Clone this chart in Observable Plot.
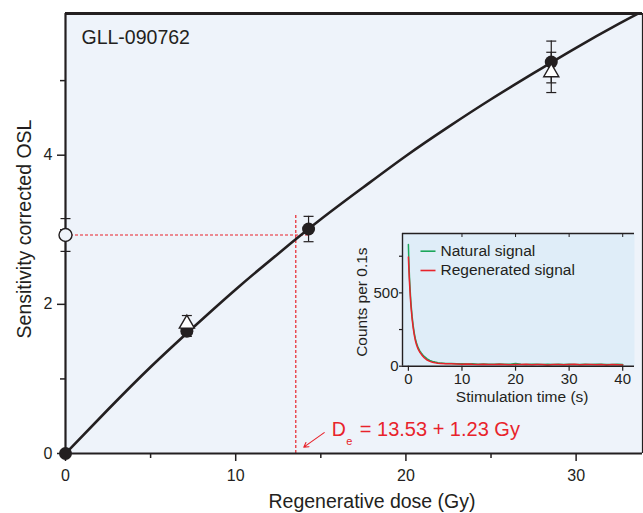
<!DOCTYPE html>
<html><head><meta charset="utf-8">
<script src="https://cdn.jsdelivr.net/npm/d3@7"></script>
<script src="https://cdn.jsdelivr.net/npm/@observablehq/plot@0.6"></script>
<style>
body{margin:0;background:#fff;}
#wrap{position:relative;width:643px;height:513px;font-family:"Liberation Sans",Arial,Helvetica,sans-serif;}
#wrap svg{position:absolute;overflow:visible;}
</style></head><body><div id="wrap"></div>
<script>
// ---------- main chart data ----------
const regenDose = [0, 7.13, 14.28, 28.54];
const regenOSL  = [0, 1.64, 3.01, 5.25];
const regenErr  = [0, 0.07, 0.17, 0.28];
const recycleDose = [7.13, 28.54];
const recycleOSL  = [1.74, 5.11];
const recycleErr  = [0.11, 0.27];
const naturalDose = [0];
const naturalOSL  = [2.93];
const naturalErr  = [0.22];
const deValue = 13.53;
const deError = 1.23;
const fitDose = [0, 2.5, 5, 7.5, 10, 12.5, 15, 17.5, 20, 22.5, 25, 27.5, 30, 32.5, 34];
const fitOSL  = [0, 0.59, 1.16, 1.69, 2.20, 2.68, 3.14, 3.57, 3.99, 4.38, 4.75, 5.10, 5.44, 5.76, 5.94];
const xTicks = [0, 10, 20, 30];
const xMinor = [5, 15, 25];
const yTicks = [0, 2, 4];
const yMinor = [1, 3, 5];
const sampleName = "GLL-090762";
const xLabel = "Regenerative dose (Gy)";
const yLabel = "Sensitivity corrected OSL";

// ---------- inset data ----------
const decayTime = [0,0.1,0.2,0.3,0.4,0.5,0.7,0.9,1.1,1.3,1.5,1.8,2.1,2.4,2.7,3.0,3.5,4.0,4.5,5.0,5.5,
  6,7,8,9,10,11,12,13,14,15,16,17,18,19,20,21,22,23,24,25,26,27,28,29,30,31,32,33,34,35,36,37,38,39,40];
const naturalCounts = [830,700,610,540,475,420,338,275,225,188,160,128,106,90,77,65,50,40,33,28,24,
  21,19,18,17,16,15,16,14,15,14,13,15,13,14,19,13,12,14,13,12,13,11,14,12,13,12,11,13,12,13,14,12,11,13,12];
const regenCounts = [745,650,575,510,450,400,320,260,212,175,148,118,97,82,68,56,42,33,27,23,20,
  19,17,16,15,14,15,13,12,14,12,11,13,12,10,12,11,13,10,12,11,9,12,11,10,12,13,10,11,12,10,11,9,11,10,9];
const insetXTicks = [0, 10, 20, 30, 40];
const insetYTicks = [0, 500];
const insetYMinor = [250, 750];
const seriesNames = ["Natural signal", "Regenerated signal"];
const insetXLabel = "Stimulation time (s)";
const insetYLabel = "Counts per 0.1s";

// ---------- build tables ----------
const regen = regenDose.map((x, i) => ({x, y: regenOSL[i], e: regenErr[i]}));
const recycle = recycleDose.map((x, i) => ({x, y: recycleOSL[i], e: recycleErr[i]}));
const natural = naturalDose.map((x, i) => ({x, y: naturalOSL[i], e: naturalErr[i]}));
const fit = fitDose.map((x, i) => ({x, y: fitOSL[i]}));
const natSig = decayTime.map((t, i) => ({t, c: naturalCounts[i]}));
const regSig = decayTime.map((t, i) => ({t, c: regenCounts[i]}));
const withErr = regen.filter(d => d.e > 0).concat(recycle, natural);

const ink = "#231F20";
const red = "#E8232B";
const green = "#1BA65A";
const font = '"Liberation Sans",Arial,Helvetica,sans-serif';
const hline = {draw(ctx, size) {const r = Math.sqrt(size / Math.PI); ctx.moveTo(-r, 0); ctx.lineTo(r, 0);}};
const plain = d => String(d);

const main = Plot.plot({
  width: 643, height: 513,
  marginLeft: 65, marginRight: 1, marginTop: 13, marginBottom: 60,
  style: {fontFamily: font, color: ink, background: "transparent"},
  x: {domain: [0, 33.9], label: null},
  y: {domain: [0, 5.9], label: null},
  marks: [
    Plot.frame({fill: "#EEF3FA", stroke: "none"}),
    Plot.ruleY(natural, {y: "y", x1: 0, x2: 14.3, stroke: red, strokeWidth: 1.2, strokeDasharray: "3,2"}),
    Plot.ruleX([deValue], {x: d => d, y1: 0, y2: 3.2, stroke: red, strokeWidth: 1.2, strokeDasharray: "3,2"}),
    Plot.line(fit, {x: "x", y: "y", curve: "natural", stroke: ink, strokeWidth: 2.6, clip: true}),
    Plot.ruleY([5.9], {stroke: ink, strokeWidth: 3}),
    Plot.ruleX([0], {stroke: ink, strokeWidth: 2.2}),
    Plot.ruleX([33.9], {stroke: ink, strokeWidth: 1.2}),
    Plot.ruleY([0], {stroke: ink, strokeWidth: 2.2}),
    Plot.axisY({ticks: yTicks, tickSize: 8, tickPadding: 5, tickFormat: plain, fontSize: 16, strokeWidth: 1.5, label: null}),
    Plot.axisY({ticks: yMinor, tickSize: 5, tickFormat: () => "", strokeWidth: 1.5, label: null}),
    Plot.axisX({ticks: xTicks, tickSize: 8, tickPadding: 8, tickFormat: plain, fontSize: 16, strokeWidth: 1.5, label: null}),
    Plot.axisX({ticks: xMinor, tickSize: 5, tickFormat: () => "", strokeWidth: 1.5, label: null}),
    Plot.ruleX(withErr, {x: "x", y1: d => d.y - d.e, y2: d => d.y + d.e, stroke: ink, strokeWidth: 1.2}),
    Plot.dot(withErr, {x: "x", y: d => d.y - d.e, symbol: hline, r: 5, stroke: ink, strokeWidth: 1.2}),
    Plot.dot(withErr, {x: "x", y: d => d.y + d.e, symbol: hline, r: 5, stroke: ink, strokeWidth: 1.2}),
    Plot.dot(regen, {x: "x", y: "y", r: 6.5, fill: ink, stroke: "none"}),
    Plot.dot(natural, {x: "x", y: "y", r: 6.5, fill: "#EEF3FA", stroke: ink, strokeWidth: 1.4}),
    Plot.dot(recycle, {x: "x", y: "y", symbol: "triangle", r: 5.6, fill: "white", stroke: ink, strokeWidth: 1.4}),
    Plot.text([sampleName], {text: d => d, frameAnchor: "top-left", dx: 16, dy: 24, textAnchor: "start", lineAnchor: "middle", fontSize: 19.5, fill: ink}),
    Plot.text([xLabel], {text: d => d, frameAnchor: "bottom", dx: 18, dy: 48, textAnchor: "middle", lineAnchor: "middle", fontSize: 19.5, fill: ink}),
    Plot.text([yLabel], {text: d => d, frameAnchor: "left", dx: -40.5, dy: -4.5, rotate: -90, textAnchor: "middle", lineAnchor: "middle", fontSize: 19.5, fill: ink}),
    Plot.arrow([deValue], {x1: 15.2, y1: 0.28, x2: 14.0, y2: 0.085, stroke: red, strokeWidth: 1.1, headLength: 7}),
    Plot.text(["D"], {text: d => d, x: deValue, y: 0, dx: 36, dy: -23.5, textAnchor: "start", lineAnchor: "middle", fontSize: 19.5, fill: red}),
    Plot.text(["e"], {text: d => d, x: deValue, y: 0, dx: 50.5, dy: -12.5, textAnchor: "start", lineAnchor: "middle", fontSize: 11, fill: red}),
    Plot.text([`= ${deValue.toFixed(2)} + ${deError.toFixed(2)} Gy`], {text: d => d, x: deValue, y: 0, dx: 64, dy: -23.5, textAnchor: "start", lineAnchor: "middle", fontSize: 20, fill: red})
  ]
});
main.style.left = "0px"; main.style.top = "0px";

const inset = Plot.plot({
  width: 300, height: 200,
  marginLeft: 62, marginRight: 6, marginTop: 13, marginBottom: 54.3,
  style: {fontFamily: font, color: ink, background: "transparent"},
  x: {domain: [-1.1, 42.2], label: null},
  y: {domain: [0, 905], label: null},
  marks: [
    Plot.frame({fill: "#DFEDF8", stroke: "none"}),
    Plot.line(natSig, {x: "t", y: "c", stroke: green, strokeWidth: 1.5}),
    Plot.line(regSig, {x: "t", y: "c", stroke: red, strokeWidth: 1.5}),
    Plot.ruleY([905], {stroke: ink, strokeWidth: 1.6}),
    Plot.ruleX([-1.1], {stroke: ink, strokeWidth: 1.4}),
    Plot.ruleY([0], {stroke: ink, strokeWidth: 1.4}),
    Plot.axisX({ticks: insetXTicks, tickSize: 5, tickPadding: 2, tickFormat: plain, fontSize: 15, strokeWidth: 1.2, label: null}),
    Plot.axisX({anchor: "top", ticks: insetXTicks.slice(1), tickSize: -3, tickFormat: () => "", strokeWidth: 1, label: null}),
    Plot.axisY({ticks: insetYTicks, tickSize: 3, tickPadding: 1, tickFormat: plain, fontSize: 15, strokeWidth: 1.2, label: null}),
    Plot.axisY({ticks: insetYMinor, tickSize: 3, tickFormat: () => "", strokeWidth: 1.2, label: null}),
    Plot.dot([seriesNames[0]], {frameAnchor: "top-left", dx: 25.5, dy: 17.7, symbol: hline, r: 7.5, stroke: green, strokeWidth: 1.6}),
    Plot.dot([seriesNames[1]], {frameAnchor: "top-left", dx: 25.5, dy: 37, symbol: hline, r: 7.5, stroke: red, strokeWidth: 1.6}),
    Plot.text([seriesNames[0]], {text: d => d, frameAnchor: "top-left", dx: 38, dy: 17.7, textAnchor: "start", lineAnchor: "middle", fontSize: 15.5, fill: ink}),
    Plot.text([seriesNames[1]], {text: d => d, frameAnchor: "top-left", dx: 38, dy: 37, textAnchor: "start", lineAnchor: "middle", fontSize: 15.5, fill: ink}),
    Plot.text([insetXLabel], {text: d => d, frameAnchor: "bottom", dx: 3.7, dy: 31, textAnchor: "middle", lineAnchor: "middle", fontSize: 15.5, fill: ink}),
    Plot.text([insetYLabel], {text: d => d, frameAnchor: "left", dx: -40.3, dy: 2.3, rotate: -90, textAnchor: "middle", lineAnchor: "middle", fontSize: 15.5, fill: ink})
  ]
});
inset.style.left = "340px"; inset.style.top = "220px";

const wrap = document.getElementById("wrap");
wrap.appendChild(main);
wrap.appendChild(inset);
</script></body></html>
